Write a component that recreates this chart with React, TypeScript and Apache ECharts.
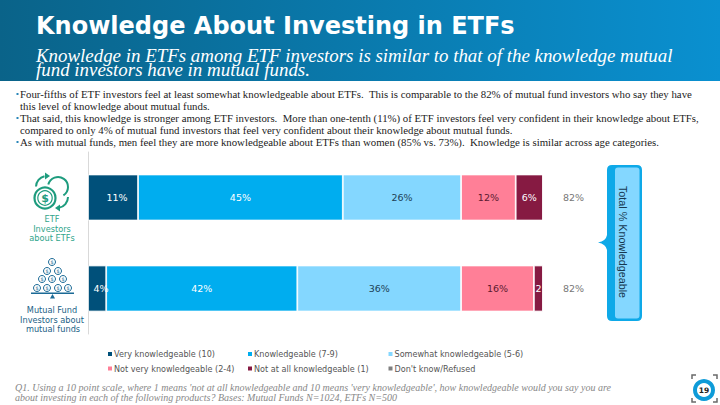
import React, { useEffect, useRef } from "react";
import * as echarts from "echarts";

const categories = ["ETF Investors about ETFs", "Mutual Fund Investors about mutual funds"];
const seriesNames = [
  "Very knowledgeable (10)",
  "Knowledgeable (7-9)",
  "Somewhat knowledgeable (5-6)",
  "Not very knowledgeable (2-4)",
  "Not at all knowledgeable (1)",
  "Don't know/Refused",
];
const veryKnowledgeable = [11, 4];
const knowledgeable = [45, 42];
const somewhat = [26, 36];
const notVery = [12, 16];
const notAtAll = [6, 2];
const dontKnow = [0, 0];
const totals = ["82%", "82%"];
const colors = ["#00507A", "#00ADEF", "#84D7FF", "#FF7F97", "#861A42", "#7F7F7F"];
const labelColors = ["#fff", "#fff", "#1d3f55", "#5a1a30", "#fff", "#fff"];

const titleText = "Knowledge About Investing in ETFs";
const subtitleText =
  "Knowledge in ETFs among ETF investors is similar to that of the knowledge mutual\nfund investors have in mutual funds.";
const bodyLines = [
  "Four-fifths of ETF investors feel at least somewhat knowledgeable about ETFs.  This is comparable to the 82% of mutual fund investors who say they have",
  "this level of knowledge about mutual funds.",
  "That said, this knowledge is stronger among ETF investors.  More than one-tenth (11%) of ETF investors feel very confident in their knowledge about ETFs,",
  "compared to only 4% of mutual fund investors that feel very confident about their knowledge about mutual funds.",
  "As with mutual funds, men feel they are more knowledgeable about ETFs than women (85% vs. 73%).  Knowledge is similar across age categories.",
];
const footnoteLines = [
  "Q1. Using a 10 point scale, where 1 means 'not at all knowledgeable and 10 means 'very knowledgeable', how knowledgeable would you say you are",
  "about investing in each of the following products? Bases: Mutual Funds N=1024, ETFs N=500",
];
const pageNumber = "19";

const seriesValues = [veryKnowledgeable, knowledgeable, somewhat, notVery, notAtAll, dontKnow];

const SERIF = '"Liberation Serif", serif';
const SANS = '"DejaVu Sans", sans-serif';

echarts.graphic.registerShape(
  "calloutShape",
  echarts.graphic.extendPath(
    "M612 165 H637 Q642 165 642 170 V316 Q642 321 637 321 H612 Q607 321 607 316 V250 Q606 244 598 242.5 Q606 241 607 235 V170 Q607 165 612 165 Z",
    {}
  )
);

function txt(text: string, x: number, y: number, font: string, fill: string, align = "left", extra: any = {}, styleExtra: any = {}) {
  return { type: "text", x, y, silent: true, style: { text, font, fill, textAlign: align, textVerticalAlign: "middle", ...styleExtra }, ...extra };
}

function etfIcon() {
  const c = "#1E9C7E";
  const out: any[] = [];
  out.push({ type: "arc", shape: { cx: 58, cy: 187, r: 10, startAngle: -2.9, endAngle: 1.0 }, style: { fill: "none", stroke: c, lineWidth: 2 } });
  out.push({ type: "circle", shape: { cx: 45, cy: 198, r: 10.5 }, style: { fill: "#fff", stroke: c, lineWidth: 2.2 } });
  out.push({ type: "circle", shape: { cx: 45, cy: 198, r: 7.2 }, style: { fill: "none", stroke: c, lineWidth: 1.2 } });
  out.push(txt("$", 45, 198.5, "bold 11px " + SANS, c, "center"));
  out.push({ type: "arc", shape: { cx: 47, cy: 187, r: 11, startAngle: -3.1, endAngle: -1.8 }, style: { fill: "none", stroke: c, lineWidth: 2 } });
  out.push({ type: "polygon", shape: { points: [[45, 172.5], [50, 176], [45, 179.5]] }, style: { fill: c } });
  out.push({ type: "arc", shape: { cx: 57, cy: 197, r: 11, startAngle: 0, endAngle: 1.4 }, style: { fill: "none", stroke: c, lineWidth: 2 } });
  out.push({ type: "polygon", shape: { points: [[60, 204.5], [55, 208], [60, 211.5]] }, style: { fill: c } });
  return out;
}

function coinIcon() {
  const c = "#1B6A96";
  const out: any[] = [];
  const rows = [
    [[52, 262]],
    [[47, 271], [58, 271]],
    [[42, 279], [52, 279], [63, 279]],
    [[37, 288], [47, 288], [58, 288], [68, 288]],
  ];
  rows.flat().forEach(([cx, cy]) => {
    out.push({ type: "circle", shape: { cx, cy, r: 3.5 }, style: { fill: "#fff", stroke: c, lineWidth: 1 } });
    out.push(txt("$", cx, cy + 0.3, "5px " + SANS, c, "center"));
  });
  out.push({ type: "rect", shape: { x: 31, y: 292.5, width: 43, height: 1.5 }, style: { fill: c } });
  out.push({ type: "polygon", shape: { points: [[52.5, 294], [50, 298.5], [55, 298.5]] }, style: { fill: c } });
  return out;
}

function pageBadge() {
  const b = "#0E9BD8";
  const d = "#6a6a6a";
  const cx = 704;
  const cy = 390;
  const out: any[] = [];
  out.push({ type: "circle", shape: { cx, cy, r: 9 }, style: { fill: "#fff", stroke: b, lineWidth: 4 } });
  out.push(txt(pageNumber, cx, cy + 0.5, "bold 7.5px " + SANS, "#222", "center"));
  const brackets = [
    [[692, 379], [692, 375], [696, 375]],
    [[713, 375], [717, 375], [717, 379]],
    [[692, 398], [692, 402], [696, 402]],
    [[713, 402], [717, 402], [717, 398]],
  ];
  brackets.forEach((points) => out.push({ type: "polyline", shape: { points }, style: { stroke: d, lineWidth: 1.5, fill: "none" } }));
  return out;
}

export default function App() {
  const ref = useRef<HTMLDivElement>(null);
  useEffect(() => {
    const chart = echarts.init(ref.current!, undefined, { renderer: "svg" });
    const legendBase = {
      orient: "vertical",
      icon: "rect",
      itemWidth: 4,
      itemHeight: 4,
      itemGap: 4.5,
      padding: 0,
      selectedMode: false,
      itemStyle: { borderWidth: 0 },
      textStyle: { color: "#555", fontSize: 8.1, fontFamily: SANS, padding: [0, 0, 0, -3], height: 10, lineHeight: 10 },
    };
    const elements: any[] = [
      {
        type: "rect",
        shape: { x: 0, y: 0, width: 720, height: 81 },
        style: {
          fill: new echarts.graphic.LinearGradient(0, 0, 1, 0, [
            { offset: 0, color: "#0A6389" },
            { offset: 1, color: "#0A90D0" },
          ]),
        },
      },
      txt(titleText, 36, 25.5, "bold 24px " + SANS, "#fff"),
      txt(subtitleText, 36, 62, "italic 18.9px " + SERIF, "#fff", "left", {}, { lineHeight: 14 }),
      ...[94, 105.5, 118, 129.5, 142].map((y, i) => txt(bodyLines[i], 20, y, "10.8px " + SERIF, "#222")),
      ...[94, 118, 142].map((y) => ({ type: "rect", shape: { x: 16.5, y: y - 1, width: 2, height: 2 }, style: { fill: "#2a86b8" } })),
      ...etfIcon(),
      txt("ETF", 52, 218.5, "8.2px " + SANS, "#2FA58B", "center"),
      txt("Investors", 52, 228.5, "8.2px " + SANS, "#2FA58B", "center"),
      txt("about ETFs", 52, 237.5, "8.2px " + SANS, "#2FA58B", "center"),
      ...coinIcon(),
      txt("Mutual Fund", 52, 310, "8.2px " + SANS, "#1B5F86", "center"),
      txt("Investors about", 52, 320, "8.2px " + SANS, "#1B5F86", "center"),
      txt("mutual funds", 53, 329, "8.2px " + SANS, "#1B5F86", "center"),
      { type: "calloutShape", x: 0, y: 0, style: { fill: "#0EA9E8" } },
      { type: "rect", shape: { x: 615, y: 167.5, width: 24.5, height: 151, r: 3 }, style: { fill: "#84D7FF" } },
      txt("Total % Knowledgeable", 623, 242, "10.8px 'Liberation Sans', sans-serif", "#17384f", "center", { rotation: -Math.PI / 2 }),
      txt(footnoteLines[0], 15, 387, "italic 10px " + SERIF, "#888"),
      txt(footnoteLines[1], 15, 397, "italic 10px " + SERIF, "#888"),
      ...pageBadge(),
    ];
    chart.setOption({
      animation: false,
      grid: { left: 88, top: 152, width: 455, height: 182 },
      xAxis: { type: "value", min: 0, max: 100, show: false },
      yAxis: [
        {
          type: "category",
          inverse: true,
          data: categories,
          axisTick: { show: false },
          axisLabel: { show: false },
          axisLine: { show: true, lineStyle: { color: "#D9D9D9", width: 1 } },
        },
        {
          type: "category",
          inverse: true,
          position: "right",
          data: totals,
          axisTick: { show: false },
          axisLine: { show: false },
          axisLabel: { margin: 20, color: "#777", fontSize: 9.5, fontFamily: SANS },
        },
      ],
      legend: [
        { ...legendBase, left: 108, top: 349, data: [seriesNames[0], seriesNames[3]] },
        { ...legendBase, left: 248, top: 349, data: [seriesNames[1], seriesNames[4]] },
        { ...legendBase, left: 388.5, top: 349, data: [seriesNames[2], seriesNames[5]] },
      ],
      series: seriesNames.map((name, i) => ({
        name,
        type: "bar",
        stack: "total",
        barWidth: 46,
        data: seriesValues[i].map((value) => {
          const clipped = value === 2;
          return {
            value,
            label: {
              show: value > 0,
              formatter: clipped ? "{c}" : "{c}%",
              position: "inside",
              offset: i === 0 ? [4, 0] : [0, 0],
              color: labelColors[i],
              fontSize: 9.5,
              fontFamily: SANS,
            },
          };
        }),
        itemStyle: { color: colors[i], borderColor: "#fff", borderWidth: 0.8 },
      })),
      graphic: { elements },
    });
    return () => chart.dispose();
  }, []);
  return <div ref={ref} style={{ position: "fixed", left: 0, top: 0, width: 720, height: 405, background: "#fff" }} />;
}
